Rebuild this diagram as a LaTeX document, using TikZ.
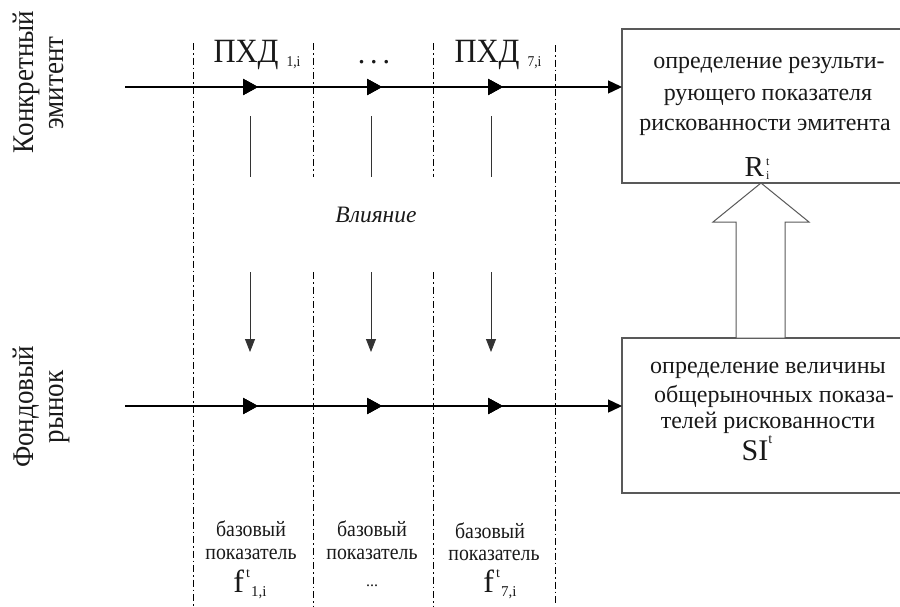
\documentclass[tikz,border=0pt]{standalone}
\usepackage{fontspec}
\setmainfont{Liberation Serif}
\newfontfamily\condfont[FakeStretch=0.9]{Liberation Serif}
\usetikzlibrary{arrows.meta,decorations.markings,calc}
\newcommand{\fsz}[1]{\fontsize{#1}{#1}\selectfont}
\newcommand{\lowsc}[1]{\raisebox{-4pt}{\fsz{15}#1}}
\begin{document}
\begin{tikzpicture}[x=1pt,y=-1pt,
  flow/.style={line width=1.4pt, draw=black},
  infl/.style={line width=0.8pt, draw=black!80},
  divline/.style={line width=0.9pt, draw=black, dash pattern=on 7pt off 3pt on 1.5pt off 3pt},
  procbox/.style={draw=black!65, line width=1.1pt, minimum width=286pt, inner sep=0pt, outer sep=0pt},
  boxtext/.style={anchor=base, font=\fsz{24}, text=black!90, inner sep=0pt},
  coltext/.style={anchor=base, font=\condfont\fsz{22}, text=black!90, inner sep=0pt},
  sidetext/.style={anchor=base, rotate=90, font=\condfont\fsz{30}, text=black!90, inner sep=0pt},
  toptext/.style={anchor=base, inner sep=0pt, font=\condfont\fsz{34}, text=black!90},
  midtip/.style={decoration={markings,
     mark=at position #1 with {\arrow{Triangle[length=15pt,width=16pt]}}}, postaction={decorate}},
  endtip/.style={-{Triangle[length=14pt,width=13pt]}},
  downtip/.style={-{Triangle[length=13pt,width=10pt]}}
]
\useasboundingbox (0,0) rectangle (900,606);

% boxes
\node[procbox, minimum height=154pt] (rbox) at (765,106) {};
\node[procbox, minimum height=155pt] (sbox) at (765,415.5) {};

% box texts
\node[boxtext] (r1) at (769,68) {определение результи-};
\node[boxtext] (r2) at (768,100) {рующего показателя};
\node[boxtext] (r3) at (765,130) {рискованности эмитента};
\node[anchor=base, inner sep=0pt, text=black!90] (r4) at (757,176)
  {\fsz{29}R\makebox[0pt][l]{\raisebox{11pt}{\fsz{12}\,t}}\raisebox{-3pt}{\fsz{12}\,i}};
\node[boxtext] (s1) at (768,373) {определение величины};
\node[boxtext] (s2) at (774,402) {общерыночных показа-};
\node[boxtext] (s3) at (768,428) {телей рискованности};
\node[anchor=base, inner sep=0pt, text=black!90] (s4) at (757,460)
  {\fsz{30}SI\raisebox{17pt}{\fsz{14}t}};

% side labels
\node[sidetext] (k1) at (33,82) {Конкретный};
\node[sidetext] (k2) at (63,83) {эмитент};
\node[sidetext] (f1) at (33,407) {Фондовый};
\node[sidetext] (f2) at (63,407) {рынок};

% dash-dot dividers
\coordinate (d1t) at (193,43); \coordinate (d1b) at (193,606);
\coordinate (d2t) at (313,43); \coordinate (d2m) at (313,177);
\coordinate (d2n) at (313,272); \coordinate (d2b) at (313,606);
\coordinate (d3t) at (433,43); \coordinate (d3m) at (433,177);
\coordinate (d3n) at (433,272); \coordinate (d3b) at (433,606);
\coordinate (d4t) at (555,45); \coordinate (d4b) at (555,606);
\draw[divline] (d1t) -- (d1b);
\draw[divline] (d2t) -- (d2m);
\draw[divline] (d2n) -- (d2b);
\draw[divline] (d3t) -- (d3m);
\draw[divline] (d3n) -- (d3b);
\draw[divline] (d4t) -- (d4b);

% top labels
\node[toptext] (p1) at (257,62) {ПХД\hspace{8pt}\lowsc{1,i}};
\node[anchor=base, inner sep=0pt, font=\fsz{30}, text=black!90] (pd) at (374,63) {.\hspace{5pt}.\hspace{5pt}.};
\node[toptext] (p7) at (498,62) {ПХД\hspace{8pt}\lowsc{7,i}};

% horizontal flows
\coordinate (L1) at (125,87);
\coordinate (L2) at (125,406);
\draw[flow, endtip, midtip=133pt, midtip=257pt, midtip=378pt] (L1) -- (L1 -| rbox.west);
\draw[flow, endtip, midtip=133pt, midtip=257pt, midtip=378pt] (L2) -- (L2 -| sbox.west);

% influence
\node[anchor=base, inner sep=0pt, font=\fsz{23.5}\itshape, text=black!90] (vl) at (376,222) {Влияние};
\foreach \n/\x in {a/250,b/371,c/491}{
  \coordinate (u\n1) at (\x,116); \coordinate (u\n2) at (\x,177);
  \coordinate (w\n1) at (\x,272); \coordinate (w\n2) at (\x,352);
  \draw[infl] (u\n1) -- (u\n2);
  \draw[infl, downtip] (w\n1) -- (w\n2);
}

% bottom labels
\node[coltext] (b1a) at (251,536) {базовый};
\node[coltext] (b1b) at (251,559) {показатель};
\node[anchor=base, inner sep=0pt, text=black!90] (b1c) at (250,592)
  {\fsz{32}f\hspace{2pt}\makebox[0pt][l]{\raisebox{15pt}{\fsz{14}t}}\hspace{5pt}\raisebox{-4pt}{\fsz{15}1,i}};
\node[coltext] (b2a) at (372,536) {базовый};
\node[coltext] (b2b) at (372,559) {показатель};
\node[anchor=base, inner sep=0pt, font=\fsz{16}, text=black!90] (b2c) at (372,586) {...};
\node[coltext] (b3a) at (490,538) {базовый};
\node[coltext] (b3b) at (494,560) {показатель};
\node[anchor=base, inner sep=0pt, text=black!90] (b3c) at (500,592)
  {\fsz{32}f\hspace{2pt}\makebox[0pt][l]{\raisebox{15pt}{\fsz{14}t}}\hspace{5pt}\raisebox{-4pt}{\fsz{15}7,i}};

% block arrow
\coordinate (tipx) at (761,0);
\coordinate (sh1) at (736,0);
\coordinate (sh2) at (785,0);
\coordinate (tip) at (rbox.south -| tipx);
\draw[draw=black!65, line width=1pt, fill=white]
  (sbox.north -| sh1) -- ($(tip -| sh1)+(0,39)$) -- ($(tip)+(-48,39)$) -- (tip)
  -- ($(tip)+(48,39)$) -- ($(tip -| sh2)+(0,39)$) -- (sbox.north -| sh2) -- cycle;
\end{tikzpicture}
\end{document}
